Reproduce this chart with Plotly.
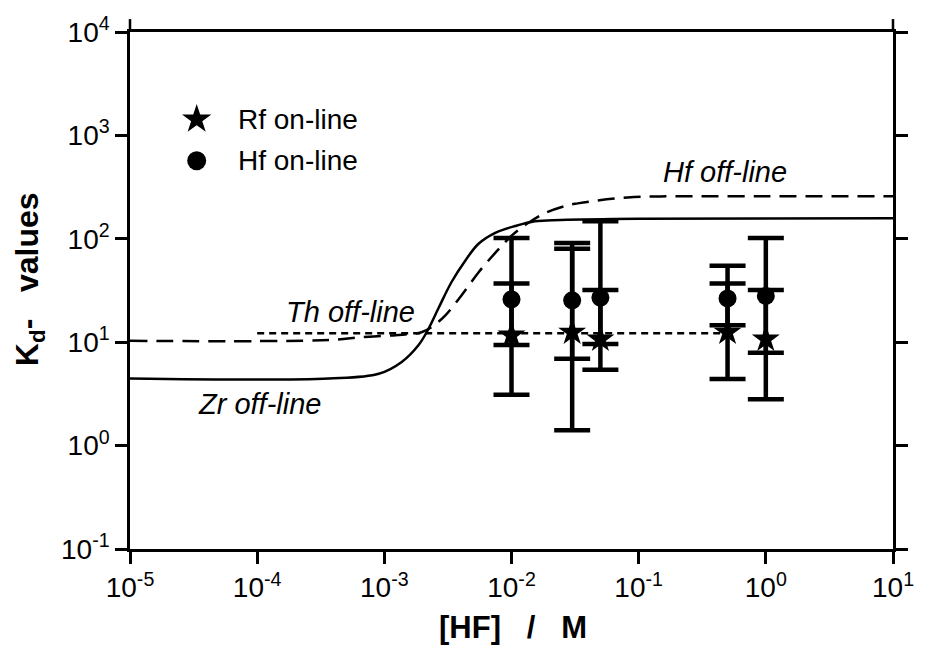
import plotly.graph_objects as go

# ---------------- data ----------------
hf_conc = [0.01, 0.03, 0.05, 0.5, 1.0]

hf_kd = [26, 25.4, 27, 26.5, 28]
hf_upper = [102, 91, 148, 55, 102]
hf_lower = [9.4, 6.9, 9.6, 14.6, 7.9]

rf_kd = [11.7, 12.5, 10.7, 12.5, 10.7]
rf_upper = [37, 80, 32, 37, 32]
rf_lower = [3.1, 1.41, 5.4, 4.4, 2.8]

zr_x = [1e-5, 3.67e-4, 9.04e-4, 1.37e-3, 1.86e-3, 2.22e-3, 2.67e-3, 3.37e-3,
        4.34e-3, 5.48e-3, 7.45e-3, 1.07e-2, 1.53e-2, 2.44e-2, 1e-1, 10]
zr_y = [4.45, 4.45, 4.95, 6.45, 9.4, 13.4, 21.4, 38,
        61.7, 89, 114, 133, 148, 152, 156, 158]

hfoff_x = [1e-5, 3.67e-4, 6.65e-4, 1.23e-3, 1.96e-3, 2.35e-3, 3.02e-3, 4.04e-3,
           5.48e-3, 7.45e-3, 9.93e-3, 1.35e-2, 1.83e-2, 2.77e-2, 3.32e-2,
           4.76e-2, 8.17e-2, 0.148, 1.0, 10]
hfoff_y = [10.3, 10.5, 11.2, 11.7, 12.5, 14.0, 18.2, 28.3,
           47, 73, 106, 142, 177, 211, 220,
           235, 251, 257, 258, 258]

th_x = [1e-4, 0.5]
th_y = [12.2, 12.2]

x_tickvals = [1e-5, 1e-4, 1e-3, 1e-2, 1e-1, 1e0, 1e1]
x_ticktext = ["10<sup>-5</sup>", "10<sup>-4</sup>", "10<sup>-3</sup>", "10<sup>-2</sup>",
              "10<sup>-1</sup>", "10<sup>0</sup>", "10<sup>1</sup>"]
y_tickvals = [1e-1, 1e0, 1e1, 1e2, 1e3, 1e4]
y_ticktext = ["10<sup>-1</sup>", "10<sup>0</sup>", "10<sup>1</sup>",
              "10<sup>2</sup>", "10<sup>3</sup>", "10<sup>4</sup>"]

legend_labels = ["Rf on-line", "Hf on-line"]
curve_labels = ["Hf off-line", "Th off-line", "Zr off-line"]

# ---------------- figure ----------------
FONT = "Liberation Sans, Arial, sans-serif"
fig = go.Figure()

# curves
fig.add_trace(go.Scatter(x=zr_x, y=zr_y, mode="lines", line_shape="spline",
                         line=dict(color="black", width=2.5, smoothing=1.0), showlegend=False,
                         hoverinfo="skip"))
fig.add_trace(go.Scatter(x=hfoff_x, y=hfoff_y, mode="lines", line_shape="spline",
                         line=dict(color="black", width=2.5, dash="17px,9px"),
                         showlegend=False, hoverinfo="skip"))
fig.add_trace(go.Scatter(x=th_x, y=th_y, mode="lines",
                         line=dict(color="black", width=2.5, dash="7px,5px"),
                         showlegend=False, hoverinfo="skip"))

# on-line data with error bars
fig.add_trace(go.Scatter(
    x=hf_conc, y=hf_kd, mode="markers",
    marker=dict(symbol="circle", size=18, color="black"),
    error_y=dict(type="data", symmetric=False,
                 array=[u - v for u, v in zip(hf_upper, hf_kd)],
                 arrayminus=[v - l for v, l in zip(hf_kd, hf_lower)],
                 color="black", thickness=4.5, width=18),
    showlegend=False))
fig.add_trace(go.Scatter(
    x=hf_conc, y=rf_kd, mode="markers",
    marker=dict(symbol="star", size=21, color="black"),
    error_y=dict(type="data", symmetric=False,
                 array=[u - v for u, v in zip(rf_upper, rf_kd)],
                 arrayminus=[v - l for v, l in zip(rf_kd, rf_lower)],
                 color="black", thickness=4.5, width=18),
    showlegend=False))

# legend keys on an overlay unit axis
fig.add_trace(go.Scatter(x=[0.0874], y=[0.831], xaxis="x2", yaxis="y2", mode="markers",
                         marker=dict(symbol="star", size=22, color="black"),
                         showlegend=False, hoverinfo="skip"))
fig.add_trace(go.Scatter(x=[0.0874], y=[0.751], xaxis="x2", yaxis="y2", mode="markers",
                         marker=dict(symbol="circle", size=19, color="black"),
                         showlegend=False, hoverinfo="skip"))

axis_common = dict(showline=True, linewidth=2.5, linecolor="black",
                   ticks="outside", ticklen=12, tickwidth=2.5, tickcolor="black",
                   showgrid=False, zeroline=False,
                   tickfont=dict(family=FONT, size=28, color="black"))

fig.update_layout(
    width=926, height=652,
    margin=dict(l=130, r=29, t=27, b=103),
    paper_bgcolor="white", plot_bgcolor="white",
    xaxis=dict(type="log", range=[-5, 1], tickvals=x_tickvals, ticktext=x_ticktext,
               mirror=True, **axis_common),
    yaxis=dict(type="log", range=[-1, 4], tickvals=y_tickvals, ticktext=y_ticktext,
               mirror="ticks", **axis_common),
    xaxis2=dict(range=[0, 1], overlaying="x", visible=False),
    yaxis2=dict(range=[0, 1], overlaying="y", visible=False),
)

annotations = [
    dict(text=legend_labels[0], x=0.1395, y=0.831, xanchor="left", yanchor="middle"),
    dict(text=legend_labels[1], x=0.1395, y=0.751, xanchor="left", yanchor="middle"),
]
for a in annotations:
    a.update(xref="paper", yref="paper", showarrow=False,
             font=dict(family=FONT, size=28, color="black"))

curve_pos = [(0.780, 0.730), (0.289, 0.458), (0.170, 0.280)]
for lbl, (px, py) in zip(curve_labels, curve_pos):
    annotations.append(dict(text="<i>" + lbl + "</i>", x=px, y=py, xref="paper", yref="paper",
                            showarrow=False, xanchor="center", yanchor="middle",
                            font=dict(family=FONT, size=29, color="black")))

annotations.append(dict(text="K<sub>d</sub>-&nbsp;&nbsp;&nbsp;values", x=-0.1317, y=0.521,
                        xref="paper", yref="paper", showarrow=False, textangle=-90,
                        xanchor="center", yanchor="middle",
                        font=dict(family=FONT, size=32, color="black", weight="bold")))
annotations.append(dict(text="[HF]&nbsp;&nbsp;&nbsp;/&nbsp;&nbsp;&nbsp;M", x=0.502, y=-0.151,
                        xref="paper", yref="paper", showarrow=False,
                        xanchor="center", yanchor="middle",
                        font=dict(family=FONT, size=31, color="black", weight="bold")))
fig.update_layout(annotations=annotations)

# small axis overhangs above the top frame
fig.add_shape(type="line", xref="paper", yref="paper", x0=0, x1=0, y0=1, y1=1.025,
              line=dict(color="black", width=2.5))
fig.add_shape(type="line", xref="paper", yref="paper", x0=1, x1=1, y0=1, y1=1.025,
              line=dict(color="black", width=2.5))

fig.write_html("out.html")
